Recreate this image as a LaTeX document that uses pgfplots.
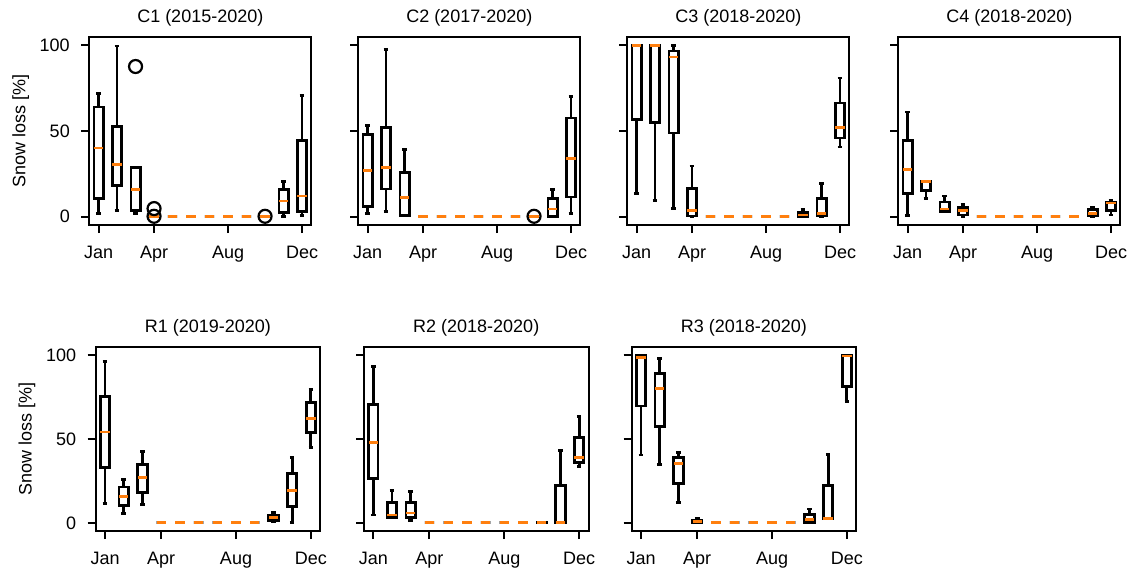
\documentclass[border=0pt]{standalone}
\usepackage{fontspec}
\setmainfont{Liberation Sans}
\usepackage{pgfplots}
\pgfplotsset{compat=1.18}
\usepgfplotslibrary{statistics}
\definecolor{mplorange}{HTML}{FF7F0E}
\newcommand\fs{\fontsize{18}{21}\selectfont}
\pgfplotsset{
  base/.style={
    scale only axis,
    xmin=0.5, xmax=12.5, ymin=-5, ymax=105,
    xtick={1,4,8,12}, xticklabels={Jan,Apr,Aug,Dec},
    ytick={0,50,100},
    tick pos=left, tick align=outside,
    major tick length=8pt,
    every tick/.style={black, line width=2pt},
    axis line style={line width=2pt},
    /pgf/number format/assume math mode=true,
    tick label style={font=\fs},
    xticklabel style={yshift=-9pt},
    yticklabel style={xshift=-8pt},
    every axis title/.style={font=\fs, at={(0.5,1)}, anchor=base, yshift=14pt},
    every axis y label/.style={at={(rel axis cs:0,0.5)}, xshift=-64pt, rotate=90, anchor=base, font=\fs},
    boxplot/draw direction=y,
    boxplot/box extend=0.5,
    boxplot/whisker extend=0.25,
    boxplot/every box/.style={draw=black, line width=2.8pt},
    boxplot/every whisker/.style={draw=black, line width=2.8pt},
    boxplot/every median/.style={draw=mplorange, line width=2.8pt},
  },
  row1/.style={base, width=222pt, height=188.5pt},
  row2/.style={base, width=224.5pt, height=184.5pt},
  nolab/.style={yticklabels={}},
  ylab/.style={ylabel={Snow loss [\%]}},
  bx/.style={black, solid, line width=2.8pt, mark=o, mark size=6.5pt, mark options={line width=2.2pt, solid}},
}
% draw position, lower whisker, lower quartile, median, upper quartile, upper whisker
\newcommand\B[6]{\addplot[bx, boxplot prepared={draw position=#1, lower whisker=#2, lower quartile=#3, median=#4, upper quartile=#5, upper whisker=#6}] coordinates {};}
\newcommand\Z[1]{\B{#1}{0}{0}{0}{0}{0}}
\begin{document}
\begin{tikzpicture}
\useasboundingbox (0,0) rectangle (1130pt,571pt);
% ---------------- C1
\begin{axis}[row1, at={(89.3pt,534.3pt)}, anchor=north west, title={C1 (2015-2020)}, ylab]
\B{1}{2.0}{10.8}{40.0}{64.0}{71.9}
\B{2}{3.5}{18.3}{30.5}{52.6}{99.6}
\addplot[bx, boxplot prepared={draw position=3, lower whisker=2.0, lower quartile=3.5, median=15.7, upper quartile=28.9, upper whisker=28.9}] table[row sep=\\, y index=0] {v\\ 87.6\\};
\addplot[bx, boxplot prepared={draw position=4, lower whisker=0, lower quartile=0, median=0, upper quartile=0, upper whisker=0}] table[row sep=\\, y index=0] {v\\ 4.7\\ 0.2\\};
\Z{5}\Z{6}\Z{7}\Z{8}\Z{9}
\addplot[bx, boxplot prepared={draw position=10, lower whisker=0, lower quartile=0, median=0, upper quartile=0, upper whisker=0}] table[row sep=\\, y index=0] {v\\ 0.2\\};
\B{11}{0}{2.6}{9.1}{15.7}{20.7}
\B{12}{0.6}{3.0}{12.0}{44.3}{70.5}
\end{axis}
% ---------------- C2
\begin{axis}[row1, at={(358.3pt,534.3pt)}, anchor=north west, title={C2 (2017-2020)}, nolab]
\B{1}{1.6}{6.1}{27.0}{47.8}{53.3}
\B{2}{3.0}{16.1}{28.9}{52.2}{97.4}
\B{3}{0.8}{0.8}{11.0}{25.6}{39.0}
\Z{4}\Z{5}\Z{6}\Z{7}\Z{8}\Z{9}
\addplot[bx, boxplot prepared={draw position=10, lower whisker=0, lower quartile=0, median=0, upper quartile=0, upper whisker=0}] table[row sep=\\, y index=0] {v\\ 0.2\\};
\B{11}{0}{0.2}{4.5}{10.4}{15.9}
\B{12}{2.0}{11.4}{33.9}{57.5}{69.9}
\end{axis}
% ---------------- C3
\begin{axis}[row1, at={(627.3pt,534.3pt)}, anchor=north west, title={C3 (2018-2020)}, nolab]
\B{1}{13.4}{56.7}{100}{100}{100}
\B{2}{9.4}{54.7}{100}{100}{100}
\B{3}{4.9}{48.8}{93.1}{96.7}{100}
\B{4}{0}{0.4}{3.5}{16.3}{29.5}
\Z{5}\Z{6}\Z{7}\Z{8}\Z{9}
\B{10}{0}{0.2}{1.0}{2.2}{4.1}
\B{11}{0}{0.4}{1.6}{10.8}{19.3}
\B{12}{40.6}{45.9}{51.8}{66.3}{80.9}
\end{axis}
% ---------------- C4
\begin{axis}[row1, at={(898.3pt,534.3pt)}, anchor=north west, title={C4 (2018-2020)}, nolab]
\B{1}{0.6}{13.4}{27.6}{44.3}{61.0}
\B{2}{10.8}{15.4}{20.3}{20.3}{20.3}
\B{3}{3.1}{3.1}{4.5}{8.5}{12.0}
\B{4}{0}{1.0}{3.5}{5.5}{7.1}
\Z{5}\Z{6}\Z{7}\Z{8}\Z{9}\Z{10}
\B{11}{0}{0.4}{2.0}{4.1}{5.3}
\B{12}{1.0}{3.5}{7.9}{8.3}{9.4}
\end{axis}
% ---------------- R1
\begin{axis}[row2, at={(95.7pt,224.3pt)}, anchor=north west, title={R1 (2019-2020)}, ylab]
\B{1}{11.5}{32.8}{54.1}{75.1}{96.4}
\B{2}{5.6}{10.5}{15.9}{21.3}{26.0}
\B{3}{10.9}{18.3}{26.8}{34.6}{42.5}
\Z{4}\Z{5}\Z{6}\Z{7}\Z{8}\Z{9}
\B{10}{0.6}{1.6}{3.0}{4.6}{6.0}
\B{11}{0}{9.5}{19.5}{29.2}{38.8}
\B{12}{44.9}{53.9}{62.2}{71.6}{79.5}
\end{axis}
% ---------------- R2
\begin{axis}[row2, at={(364pt,224.3pt)}, anchor=north west, title={R2 (2018-2020)}, nolab]
\B{1}{4.6}{26.2}{47.7}{70.6}{93.4}
\B{2}{3.2}{3.2}{4.6}{12.1}{19.1}
\B{3}{1.6}{3.0}{5.8}{12.1}{18.5}
\Z{4}\Z{5}\Z{6}\Z{7}\Z{8}\Z{9}
\B{10}{0}{0}{0}{0.3}{0.5}
\B{11}{0}{0}{0}{22.1}{43.3}
\B{12}{33.8}{36.0}{38.8}{50.9}{63.6}
\end{axis}
% ---------------- R3
\begin{axis}[row2, at={(631.7pt,224.3pt)}, anchor=north west, title={R3 (2018-2020)}, nolab]
\B{1}{40.4}{69.6}{98.6}{100}{100}
\B{2}{34.8}{57.3}{79.9}{89.1}{98.0}
\B{3}{12.3}{23.5}{35.4}{38.9}{42.1}
\B{4}{0}{0}{0.6}{1.6}{2.6}
\Z{5}\Z{6}\Z{7}\Z{8}\Z{9}
\B{10}{0}{0}{2.0}{5.0}{8.2}
\B{11}{2.6}{2.6}{2.6}{22.1}{40.8}
\B{12}{72.2}{81.5}{99.4}{100}{100}
\end{axis}
\end{tikzpicture}
\end{document}
